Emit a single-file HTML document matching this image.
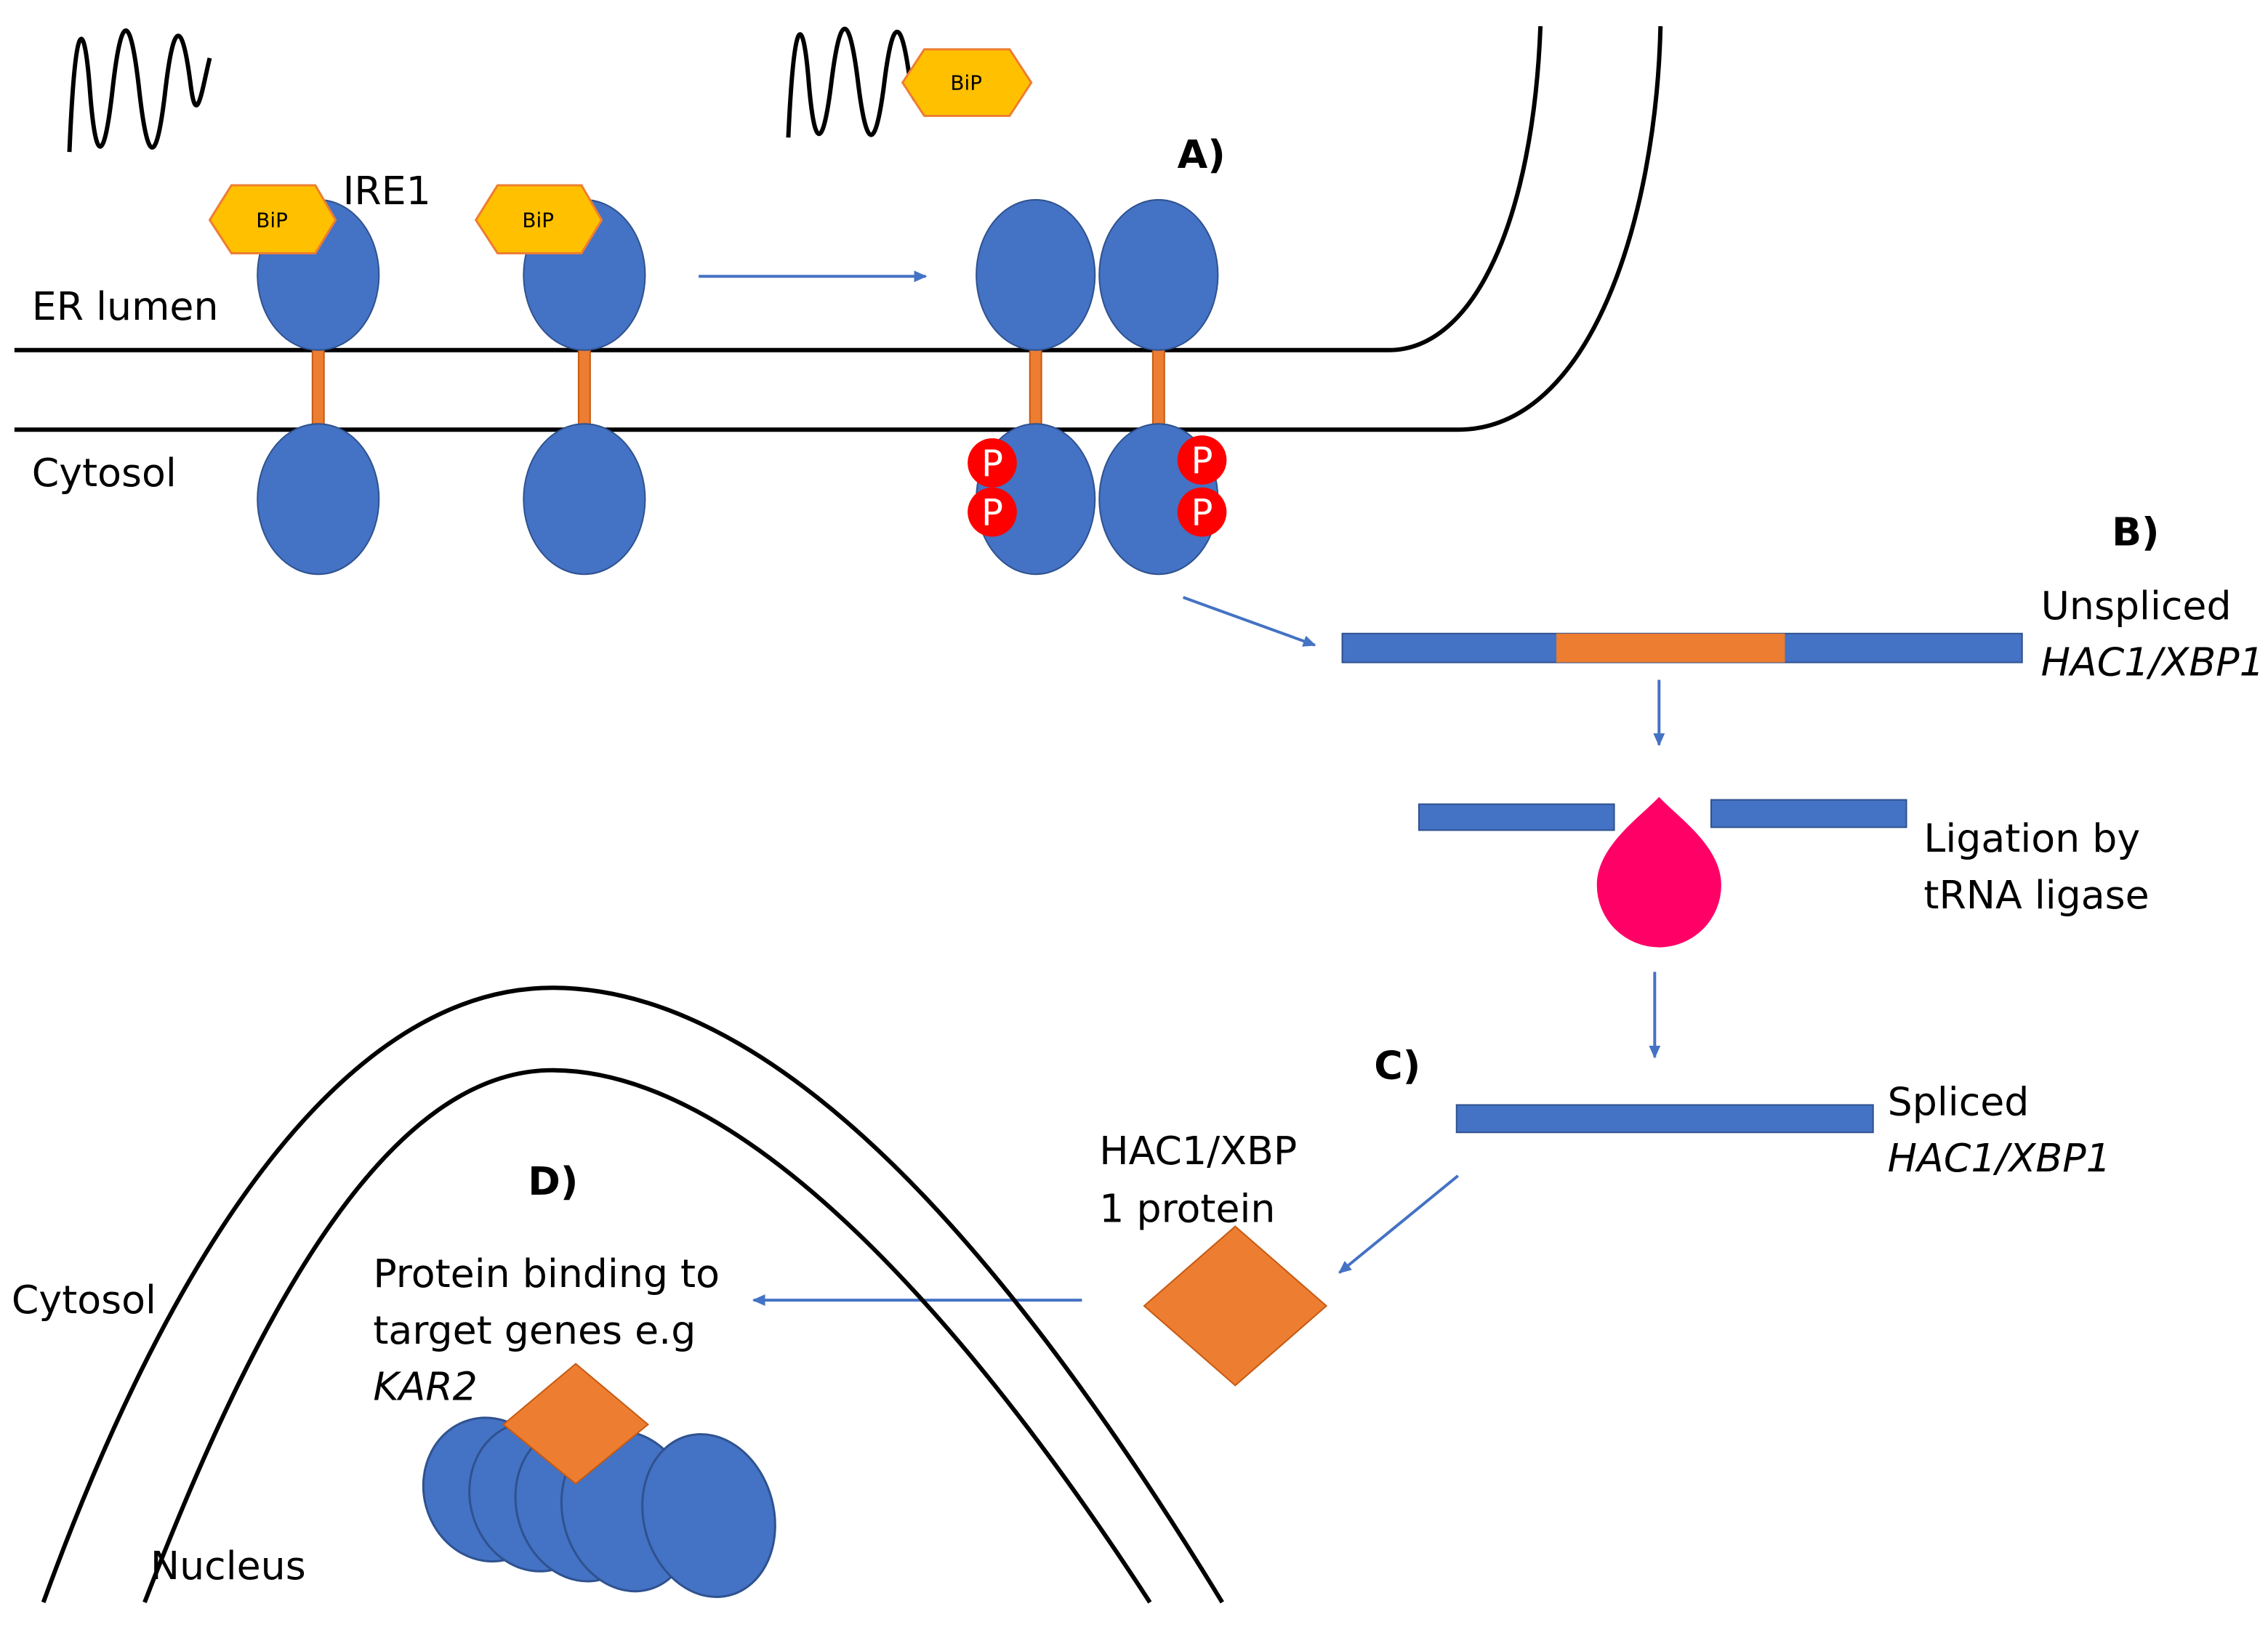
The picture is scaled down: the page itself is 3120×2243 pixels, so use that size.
<!DOCTYPE html>
<html><head><meta charset="utf-8"><style>
html,body{margin:0;padding:0;background:#fff;}
svg{display:block;}
text{font-family:"DejaVu Sans","Liberation Sans",sans-serif;fill:#000;}
</style></head><body>
<svg width="3120" height="2243" viewBox="0 0 1568 1127" xmlns="http://www.w3.org/2000/svg">
<defs>
<marker id="ah" markerWidth="10" markerHeight="10" refX="8" refY="4" orient="auto" markerUnits="userSpaceOnUse">
<path d="M0,0 L9,4 L0,8 z" fill="#4472C4"/></marker>
</defs>
<path d="M48,105 C52,10 58,10 62,60 C66,115 72,115 78,60 C84,8 90,8 96,60 C102,115 108,115 114,65 C120,12 126,12 132,60 C136,90 140,60 145,40" fill="none" stroke="#000" stroke-width="3"/>
<path d="M545,95 C549,8 555,8 559,55 C563,105 569,105 575,55 C581,8 587,8 593,55 C599,105 605,105 611,60 C617,10 623,10 629,55 C633,85 637,60 641,35" fill="none" stroke="#000" stroke-width="3"/>
<path d="M10,242 L960,242 C1020,242 1060,150 1065,18" fill="none" stroke="#000" stroke-width="3"/>
<path d="M10,297 L1008,297 C1100,297 1145,150 1148,18" fill="none" stroke="#000" stroke-width="3"/>
<g fill="#ED7D31" stroke="#C55A11" stroke-width="1">
<rect x="216" y="240" width="8" height="62"/><rect x="400" y="240" width="8" height="62"/>
<rect x="712" y="240" width="8" height="62"/><rect x="797" y="240" width="8" height="62"/>
</g>
<g fill="#4472C4" stroke="#2F528F" stroke-width="1">
<ellipse cx="220" cy="190" rx="42" ry="52"/><ellipse cx="404" cy="190" rx="42" ry="52"/>
<ellipse cx="716" cy="190" rx="41" ry="52"/><ellipse cx="801" cy="190" rx="41" ry="52"/>
<ellipse cx="220" cy="345" rx="42" ry="52"/><ellipse cx="404" cy="345" rx="42" ry="52"/>
<ellipse cx="716" cy="345" rx="41" ry="52"/><ellipse cx="801" cy="345" rx="41" ry="52"/>
</g>
<g fill="#FFC000" stroke="#ED7D31" stroke-width="1.5">
<polygon points="145,152 160,128 218,128 232,152 218,175 160,175"/>
<polygon points="329,152 344,128 402,128 416,152 402,175 344,175"/>
<polygon points="624,57 639,34 698,34 713,57 698,80 639,80"/>
</g>
<g font-size="14" text-anchor="middle">
<text x="188" y="157">BiP</text><text x="372" y="157">BiP</text><text x="668" y="62">BiP</text>
</g>
<g fill="#FF0000"><circle cx="686" cy="320" r="17"/><circle cx="686" cy="354" r="17"/><circle cx="831" cy="318" r="17"/><circle cx="831" cy="354" r="17"/></g>
<g font-size="25" text-anchor="middle"><text x="686" y="329" style="fill:#fff">P</text><text x="686" y="363" style="fill:#fff">P</text><text x="831" y="327" style="fill:#fff">P</text><text x="831" y="363" style="fill:#fff">P</text></g>
<g stroke="#4472C4" stroke-width="2" marker-end="url(#ah)" fill="none">
<line x1="483" y1="191" x2="640" y2="191"/>
<line x1="818" y1="413" x2="909" y2="446"/>
<line x1="1147" y1="470" x2="1147" y2="515"/>
<line x1="1144" y1="672" x2="1144" y2="731"/>
<line x1="1008" y1="813" x2="926" y2="880"/>
<line x1="748" y1="899" x2="521" y2="899"/>
</g>
<g fill="#4472C4" stroke="#2F528F" stroke-width="1">
<rect x="928" y="438" width="470" height="20"/>
<rect x="981" y="556" width="135" height="18"/><rect x="1183" y="553" width="135" height="19"/>
<rect x="1007" y="764" width="288" height="19"/>
</g>
<rect x="1076" y="438" width="158" height="20" fill="#ED7D31"/>
<path d="M1147,551 C1160,565 1190,585 1190,612 A43,43 0 0 1 1104,612 C1104,585 1134,565 1147,551 z" fill="#FF0066"/>
<path d="M30,1108 C120,860 240,683 382,683 C540,683 700,870 845,1108" fill="none" stroke="#000" stroke-width="3"/>
<path d="M100,1108 C180,900 270,740 382,740 C510,740 660,900 795,1108" fill="none" stroke="#000" stroke-width="3"/>
<polygon points="854,848 917,903 854,958 791,903" fill="#ED7D31" stroke="#C55A11" stroke-width="1"/>
<g fill="#4472C4" stroke="#2F528F" stroke-width="1.5">
<ellipse cx="338" cy="1030" rx="45" ry="50" transform="rotate(-15 338 1030)"/>
<ellipse cx="370" cy="1035" rx="45" ry="52" transform="rotate(-15 370 1035)"/>
<ellipse cx="402" cy="1040" rx="45" ry="54" transform="rotate(-15 402 1040)"/>
<ellipse cx="434" cy="1045" rx="45" ry="56" transform="rotate(-15 434 1045)"/>
<ellipse cx="490" cy="1048" rx="45" ry="57" transform="rotate(-15 490 1048)"/>
</g>
<polygon points="398,943 448,985 398,1026 348,985" fill="#ED7D31" stroke="#C55A11" stroke-width="1"/>
<g font-size="27">
<text x="237" y="141">IRE1</text>
<text x="22" y="221">ER lumen</text>
<text x="22" y="336">Cytosol</text>
<text x="814" y="116" font-weight="bold">A)</text>
<text x="1460" y="377" font-weight="bold">B)</text>
<text x="1411" y="428">Unspliced</text>
<text x="1411" y="467" font-style="italic">HAC1/XBP1</text>
<text x="1330" y="589">Ligation by</text>
<text x="1330" y="628">tRNA ligase</text>
<text x="950" y="746" font-weight="bold">C)</text>
<text x="1305" y="771">Spliced</text>
<text x="1305" y="810" font-style="italic">HAC1/XBP1</text>
<text x="760" y="805">HAC1/XBP</text>
<text x="760" y="845">1 protein</text>
<text x="365" y="826" font-weight="bold">D)</text>
<text x="8" y="908">Cytosol</text>
<text x="258" y="890">Protein binding to</text>
<text x="258" y="929">target genes e.g</text>
<text x="258" y="968" font-style="italic">KAR2</text>
<text x="104" y="1092">Nucleus</text>
</g>
</svg>
</body></html>
